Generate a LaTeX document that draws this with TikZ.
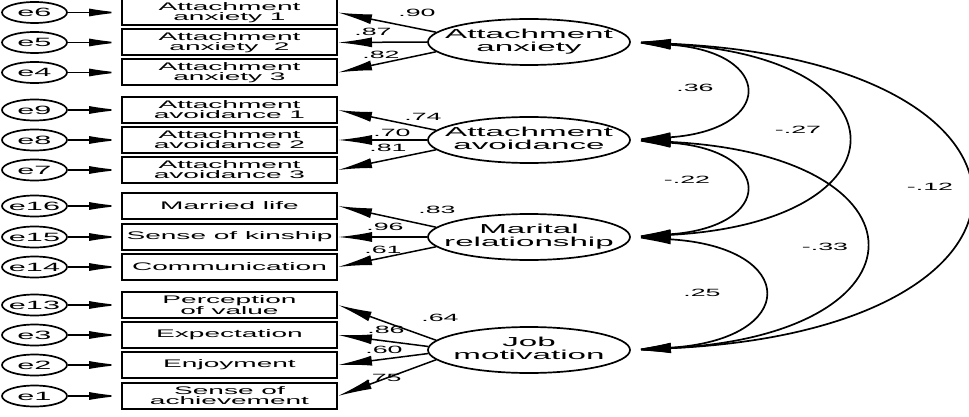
\documentclass[tikz,border=0pt]{standalone}
\usepackage{fontspec}
\setmainfont{Liberation Sans}[FakeStretch=2.55]
\usetikzlibrary{arrows.meta,shapes.geometric}
\newcommand\twolines[2]{\makebox[0pt]{\begin{tabular}{@{}c@{}}#1\\#2\end{tabular}}}
\begin{document}
\begin{tikzpicture}[x=1pt,y=-1pt,
  errnode/.style={draw, ellipse, line width=1.7pt, minimum width=65pt, minimum height=21pt, inner sep=0pt, font=\fontsize{12}{12}\selectfont},
  ind/.style={draw, rectangle, line width=2pt, minimum width=215pt, minimum height=26pt, inner sep=0pt, align=center, font=\fontsize{11}{10}\selectfont},
  lat/.style={draw, ellipse, line width=1.7pt, minimum width=202pt, minimum height=46pt, inner sep=0pt, font=\fontsize{13}{13}\selectfont},
  earr/.style={line width=1.6pt, -{Latex[length=32pt,width=8pt]}},
  load/.style={line width=1.5pt, -{Latex[length=34pt,width=10pt]}},
  cov/.style={line width=1.7pt, {Latex[length=40pt,width=10pt]}-{Latex[length=40pt,width=10pt]}},
  lbl/.style={font=\fontsize{10.5}{10.5}\selectfont, inner sep=0pt}
]
\useasboundingbox (0,0) rectangle (969,417);

% indicators
\node[ind] (i6)  at (229.5,12.5) {Attachment\\anxiety 1};
\node[ind] (i5)  at (229.5,42.5) {Attachment\\anxiety\ \ 2};
\node[ind] (i4)  at (229.5,72.5) {Attachment\\anxiety 3};
\node[ind] (i9)  at (229.5,110) {Attachment\\avoidance 1};
\node[ind] (i8)  at (229.5,140) {Attachment\\avoidance 2};
\node[ind] (i7)  at (229.5,170) {Attachment\\avoidance 3};
\node[ind] (i16) at (229.5,206) {Married life};
\node[ind] (i15) at (229.5,237) {Sense of kinship};
\node[ind] (i14) at (229.5,267) {Communication};
\node[ind] (i13) at (229.5,305) {Perception\\of value};
\node[ind] (i3)  at (229.5,335) {Expectation};
\node[ind] (i2)  at (229.5,365) {Enjoyment};
\node[ind] (i1)  at (229.5,396) {Sense of\\achievement};

% error terms
\foreach \n/\y in {6/12.5,5/42.5,4/72.5,9/110,8/140,7/170,16/206,15/237,14/267,13/305,3/335,2/365,1/396}{
  \node[errnode] (e\n) at (34.5,\y) {\makebox[0pt]{e\n}};
  \draw[earr] (e\n) -- (i\n);
}

% latent variables
\node[lat] (anx) at (529,42)  {\twolines{Attachment}{anxiety}};
\node[lat] (avo) at (529,140) {\twolines{Attachment}{avoidance}};
\node[lat] (mar) at (529,237) {\twolines{Marital}{relationship}};
\node[lat] (job) at (529,350) {\twolines{Job}{motivation}};

% loadings
\draw[load] (anx.174) -- (i6.east);
\draw[load] (anx.180) -- (i5.east);
\draw[load] (anx.186) -- (i4.east);
\draw[load] (avo.174) -- (i9.east);
\draw[load] (avo.180) -- (i8.east);
\draw[load] (avo.186) -- (i7.east);
\draw[load] (mar.174) -- (i16.east);
\draw[load] (mar.180) -- (i15.east);
\draw[load] (mar.186) -- (i14.east);
\draw[load] (job.174) -- (i13.east);
\draw[load] (job.178) -- (i3.east);
\draw[load] (job.182) -- (i2.east);
\draw[load] (job.186) -- (i1.east);

\node[lbl] (l90) at (417,13) {.90};
\node[lbl] (l87) at (373,32) {.87};
\node[lbl] (l82) at (381,55) {.82};
\node[lbl] (l74) at (423,117) {.74};
\node[lbl] (l70) at (392,133) {.70};
\node[lbl] (l81) at (388,148) {.81};
\node[lbl] (l83) at (437,210) {.83};
\node[lbl] (l96) at (385,227) {.96};
\node[lbl] (l61) at (383,250) {.61};
\node[lbl] (l64) at (440,318) {.64};
\node[lbl] (l86) at (386,330) {.86};
\node[lbl] (l60) at (384,350) {.60};
\node[lbl] (l75) at (383,378) {.75};

% covariances
\draw[cov] (anx.east) .. controls +(144,10) and +(144,-10) .. (avo.east);
\draw[cov] (anx.east) .. controls +(280,15) and +(280,-15) .. (mar.east);
\draw[cov] (anx.east) .. controls +(443,20) and +(443,-20) .. (job.east);
\draw[cov] (avo.east) .. controls +(144,10) and +(144,-10) .. (mar.east);
\draw[cov] (avo.east) .. controls +(304,15) and +(304,-15) .. (job.east);
\draw[cov] (mar.east) .. controls +(169,10) and +(169,-10) .. (job.east);

\node[lbl] (c36) at (695,88)  {.36};
\node[lbl] (c27) at (798,130) {-.27};
\node[lbl] (c12) at (930,187) {-.12};
\node[lbl] (c22) at (687,180) {-.22};
\node[lbl] (c33) at (825,247) {-.33};
\node[lbl] (c25) at (702,293) {.25};
\end{tikzpicture}
\end{document}
